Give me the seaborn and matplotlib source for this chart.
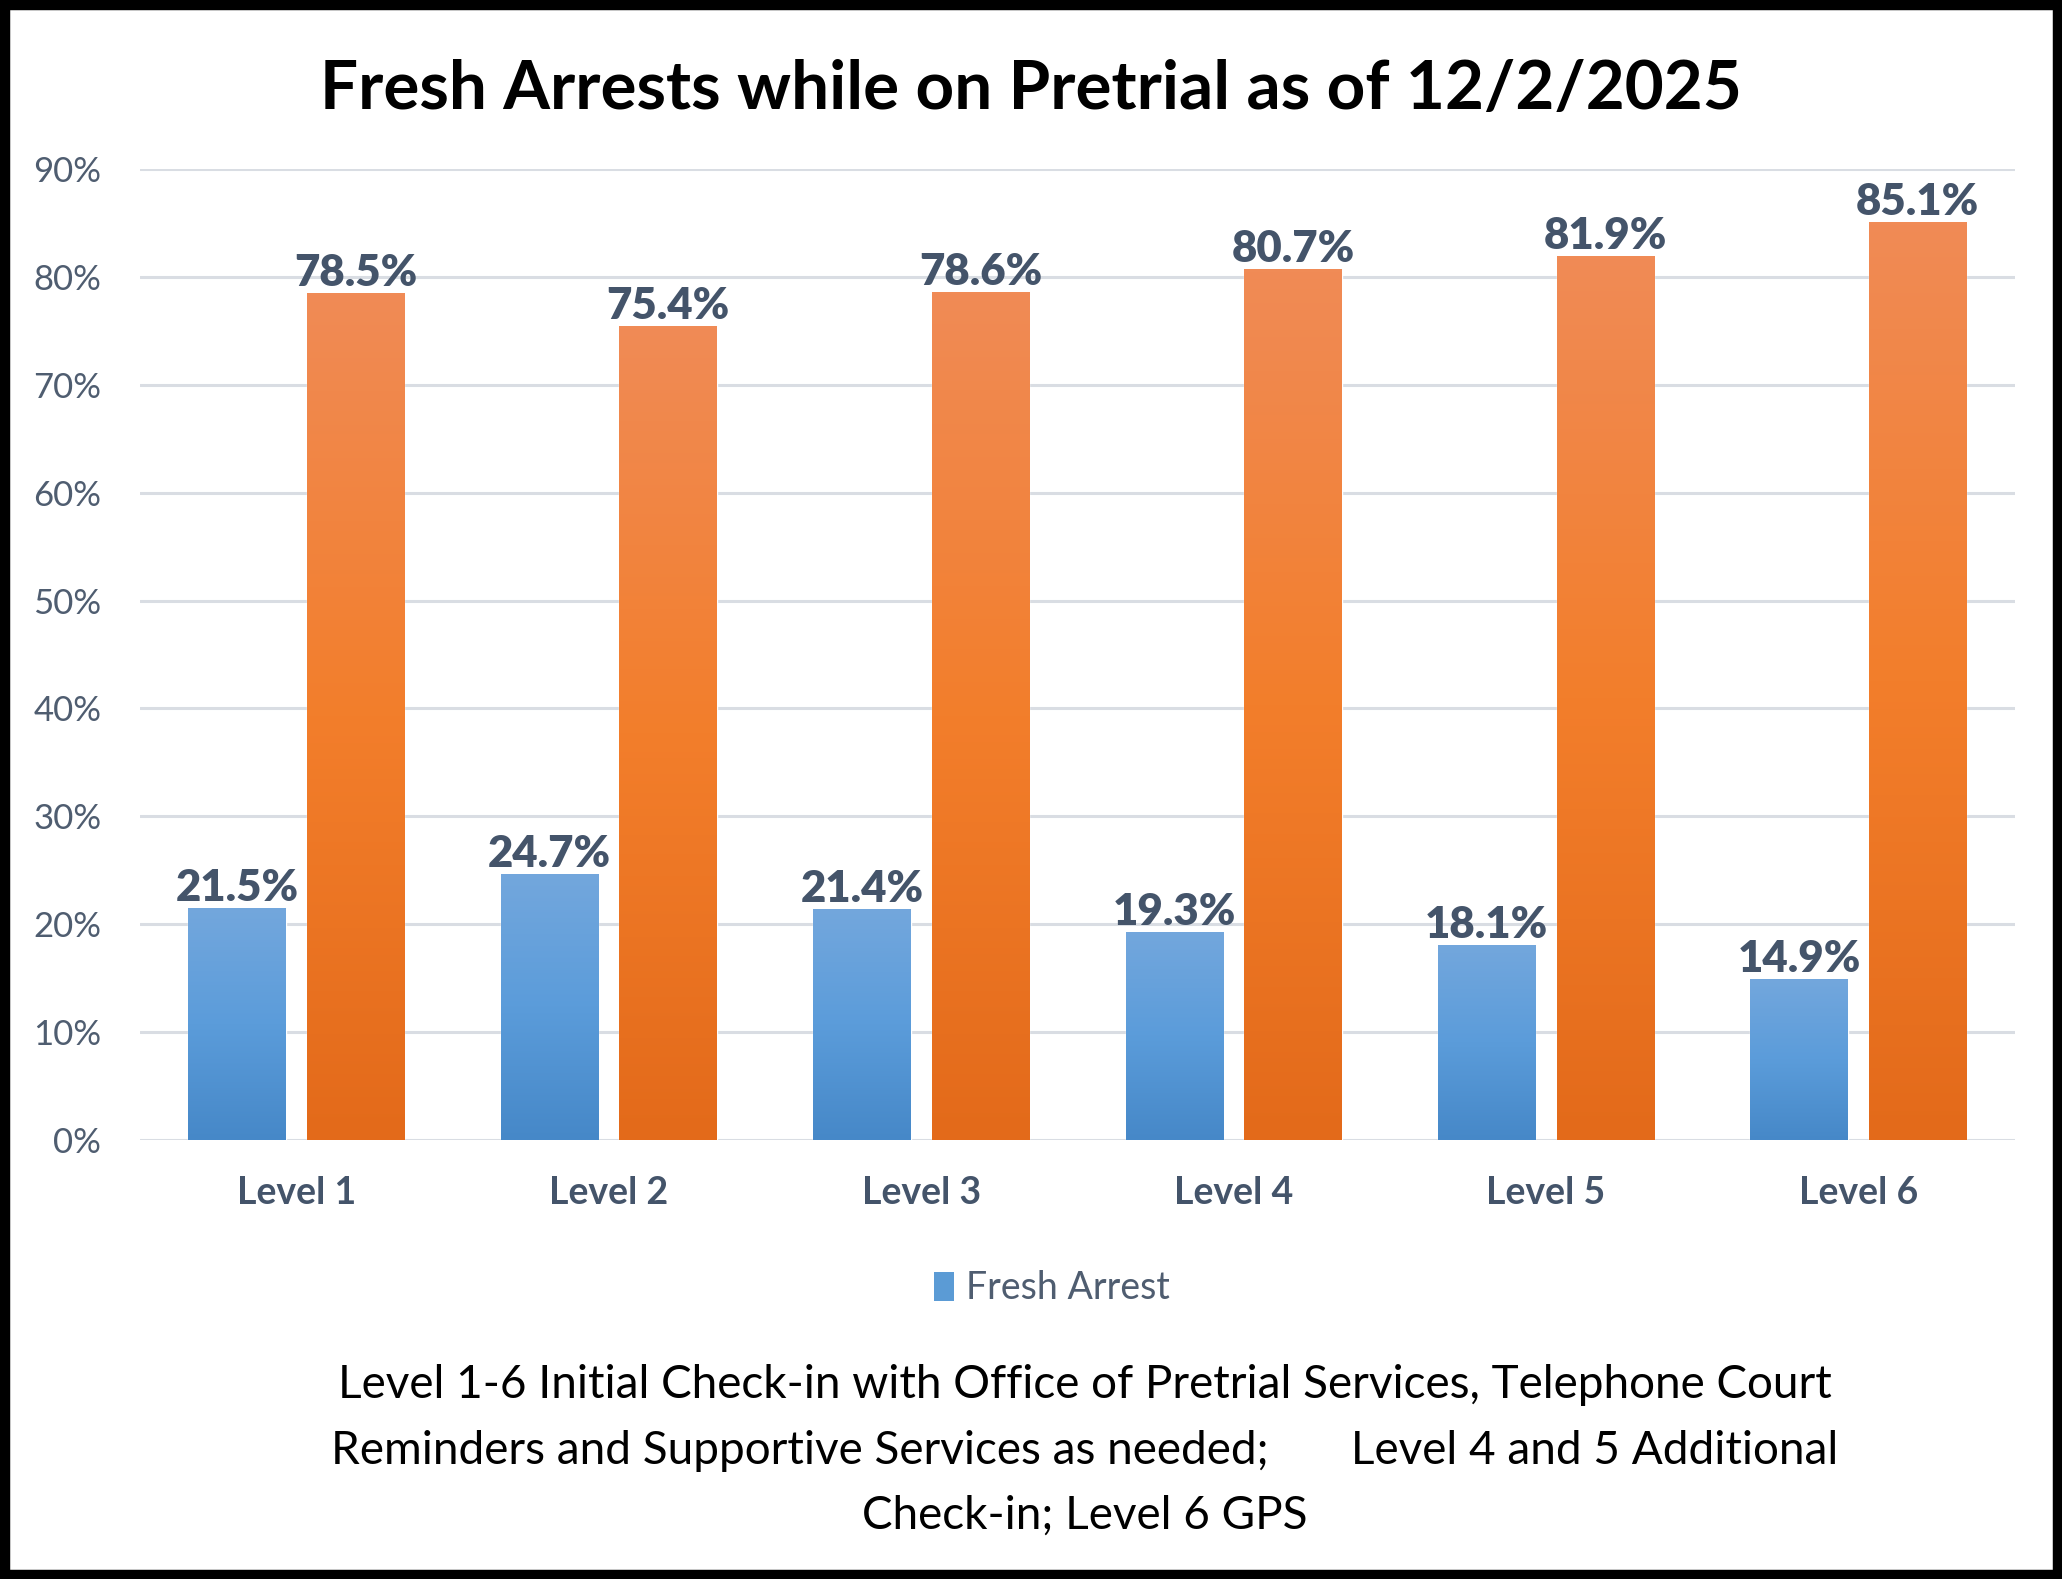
import numpy as np
import pandas as pd
import matplotlib
matplotlib.use("Agg")
import matplotlib.pyplot as plt
import seaborn as sns
from matplotlib.colors import LinearSegmentedColormap
from matplotlib.patches import Patch, Rectangle

# Data
levels = ["Level 1", "Level 2", "Level 3", "Level 4", "Level 5", "Level 6"]
fresh_arrest = [21.5, 24.7, 21.4, 19.3, 18.1, 14.9]
no_fresh_arrest = [78.5, 75.4, 78.6, 80.7, 81.9, 85.1]
series_names = ["Fresh Arrest", "No Fresh Arrest"]
y_ticks = [0, 10, 20, 30, 40, 50, 60, 70, 80, 90]

df = pd.DataFrame({
    "Level": levels * 2,
    "Series": [series_names[0]] * len(levels) + [series_names[1]] * len(levels),
    "Pct": fresh_arrest + no_fresh_arrest,
})

sns.set_theme(style="white")
plt.rcParams["font.family"] = ["Lato", "DejaVu Sans"]

label_col = "#44546A"
tick_col = "#4F5D70"
palette = {series_names[0]: "#5B9BD5", series_names[1]: "#ED7D31"}
gradients = {
    series_names[0]: LinearSegmentedColormap.from_list("blue", ["#4688C8", "#5B9CDA", "#73A7DD"]),
    series_names[1]: LinearSegmentedColormap.from_list("orange", ["#E36A1A", "#F37E2B", "#F08B56"]),
}

fig = plt.figure(figsize=(20.62, 15.79), dpi=100)
ax = fig.add_axes([0.068, 0.278, 0.909, 0.615])

sns.barplot(data=df, x="Level", y="Pct", hue="Series", order=levels,
            hue_order=series_names, palette=palette, width=0.76, gap=0.18,
            legend=False, ax=ax, zorder=3)

ax.set_ylim(0, 90)
ax.set_xlim(-0.5, len(levels) - 0.5)
ax.set_yticks(y_ticks)
ax.set_yticklabels([f"{t}%" for t in y_ticks])
ax.grid(axis="y", color="#D9DDE3", linewidth=2.2, zorder=0)
ax.set_axisbelow(True)
for s in ax.spines.values():
    s.set_visible(False)
ax.tick_params(axis="y", length=0, pad=28, labelsize=25, labelcolor=tick_col)
ax.tick_params(axis="x", length=0, pad=26, labelsize=27, labelcolor=label_col)
for t in ax.get_xticklabels():
    t.set_fontweight("bold")
ax.set_xlabel("")
ax.set_ylabel("")

# vertical gradient fill clipped to each bar
grad = np.linspace(0, 1, 256).reshape(-1, 1)
for name, cont in zip(series_names, ax.containers):
    for bar in cont:
        x0, y0 = bar.get_x(), bar.get_y()
        w, h = bar.get_width(), bar.get_height()
        im = ax.imshow(grad, cmap=gradients[name], origin="lower", aspect="auto",
                       extent=[x0, x0 + w, y0, y0 + h], zorder=4)
        im.set_clip_path(bar)
    ax.bar_label(cont, labels=[f"{b.get_height():.1f}%" for b in cont],
                 padding=0, fontsize=31.5, fontweight="heavy", color=label_col, zorder=5)

ax.set_ylim(0, 90)
ax.set_xlim(-0.5, len(levels) - 0.5)

fig.suptitle("Fresh Arrests while on Pretrial as of 12/2/2025", y=0.943, va="center",
             fontsize=48.5, fontweight="bold", color="black")

handles = [Patch(facecolor="#5B9BD5", edgecolor="none", label=series_names[0])]
fig.legend(handles=handles, loc="center", bbox_to_anchor=(0.51, 0.184), frameon=False,
           fontsize=27, labelcolor="#4F5D70", handlelength=0.55, handleheight=0.8,
           handletextpad=0.3)

note = [
    "Level 1-6 Initial Check-in with Office of Pretrial Services, Telephone Court",
    "Reminders and Supportive Services as needed;       Level 4 and 5 Additional",
    "Check-in; Level 6 GPS",
]
for yy, line in zip([0.123, 0.081, 0.040], note):
    fig.text(0.526, yy, line, ha="center", va="center", fontsize=33, color="black")

fig.patches.append(Rectangle((0, 0), 1, 1, transform=fig.transFigure, fill=False,
                             edgecolor="black", linewidth=14))

fig.savefig("out.png", dpi=100, facecolor="white")
